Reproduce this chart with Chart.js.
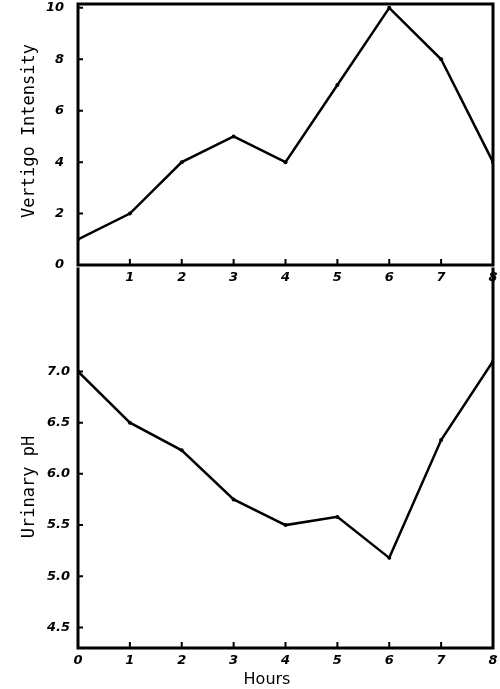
<!DOCTYPE html>
<html>
<head>
<meta charset="utf-8">
<script src="https://cdn.jsdelivr.net/npm/chart.js@4"></script>
<style>
    body { margin: 0; background: #fff; }
    #wrap { position: relative; width: 500px; height: 689px; }
    canvas { position: absolute; left: 0; }
    #vertigoChart { top: 0; }
    #phChart { top: 265px; }
</style>
</head>
<body>
<div id="wrap">
    <canvas id="vertigoChart" width="500" height="290"></canvas>
    <canvas id="phChart" width="500" height="424"></canvas>
</div>
<script>
// Data
const hours = [0, 1, 2, 3, 4, 5, 6, 7, 8];
const vertigo = [1, 2, 4, 5, 4, 7, 10, 8, 4];
const urinaryPh = [7.0, 6.5, 6.23, 5.75, 5.5, 5.58, 5.18, 6.33, 7.1];
const vertigoTicks = [0, 2, 4, 6, 8, 10];
const phTicks = [4.5, 5.0, 5.5, 6.0, 6.5, 7.0];
const hourTicks = [0, 1, 2, 3, 4, 5, 6, 7, 8];

const tickFont = { family: 'DejaVu Sans', size: 13, weight: 'bold', style: 'italic' };
const noGrid = { display: false, drawTicks: false };

// the scales should not reserve extra room for half labels
function noPad(s) {
    s.paddingTop = 0;
    s.paddingBottom = 0;
    s.paddingLeft = 0;
    s.paddingRight = 0;
}

// frame lines, inward tick marks and the axis titles
const framePlugin = {
    id: 'frame',
    afterDraw(chart, args, opts) {
        const ctx = chart.ctx;
        const a = chart.chartArea;
        const xs = chart.scales.x;
        const ys = chart.scales.y;
        ctx.save();
        ctx.strokeStyle = '#000';
        ctx.lineWidth = 3;
        ctx.lineCap = 'square';
        ctx.beginPath();
        if (opts.top) {
            ctx.moveTo(a.left, a.top);
            ctx.lineTo(a.right, a.top);
        }
        ctx.moveTo(a.left, a.top);
        ctx.lineTo(a.left, a.bottom);
        ctx.lineTo(a.right, a.bottom);
        ctx.lineTo(a.right, a.top);
        ctx.stroke();

        ctx.lineWidth = 2;
        ctx.beginPath();
        xs.ticks.forEach(t => {
            const px = xs.getPixelForValue(t.value);
            ctx.moveTo(px, a.bottom);
            ctx.lineTo(px, a.bottom - 5);
        });
        ys.ticks.forEach(t => {
            const py = ys.getPixelForValue(t.value);
            ctx.moveTo(a.left, py);
            ctx.lineTo(a.left + 4, py);
        });
        ctx.stroke();

        ctx.fillStyle = '#000';
        ctx.textAlign = 'center';
        ctx.textBaseline = 'middle';
        ctx.font = '17px "DejaVu Sans Mono"';
        ctx.translate(opts.yTitleX, opts.yTitleY);
        ctx.rotate(-Math.PI / 2);
        ctx.fillText(opts.yTitle, 0, 0);
        ctx.restore();

        if (opts.xTitle) {
            ctx.save();
            ctx.fillStyle = '#000';
            ctx.textAlign = 'center';
            ctx.textBaseline = 'middle';
            ctx.font = '16px "DejaVu Sans"';
            ctx.fillText(opts.xTitle, opts.xTitleX, opts.xTitleY);
            ctx.restore();
        }
    }
};

function lineDataset(values) {
    return {
        data: hours.map((h, i) => ({ x: h, y: values[i] })),
        borderColor: '#000',
        borderWidth: 2.5,
        pointRadius: 2,
        pointBackgroundColor: '#000',
        pointBorderWidth: 0,
        tension: 0
    };
}

new Chart(document.getElementById('vertigoChart'), {
    type: 'line',
    data: { datasets: [lineDataset(vertigo)] },
    options: {
        responsive: false,
        animation: false,
        devicePixelRatio: 1,
        layout: { padding: { top: 3, right: 7, left: 0, bottom: 0 } },
        plugins: {
            legend: { display: false },
            tooltip: { enabled: false },
            frame: { top: true, yTitle: 'Vertigo Intensity', yTitleX: 30, yTitleY: 131 }
        },
        scales: {
            x: {
                type: 'linear',
                min: 0,
                max: 8,
                grid: noGrid,
                border: { display: false },
                afterBuildTicks: s => { s.ticks = hourTicks.map(v => ({ value: v })); },
                afterFit: s => { s.height = 25; noPad(s); },
                ticks: {
                    color: '#000',
                    font: tickFont,
                    padding: 5,
                    maxRotation: 0,
                    callback: v => (v === 0 ? '' : v)
                }
            },
            y: {
                min: 0,
                max: 10.15,
                grid: noGrid,
                border: { display: false },
                afterBuildTicks: s => { s.ticks = vertigoTicks.map(v => ({ value: v })); },
                afterFit: s => { s.width = 78; noPad(s); },
                ticks: { color: '#000', font: tickFont, padding: 14 }
            }
        }
    },
    plugins: [framePlugin]
});

new Chart(document.getElementById('phChart'), {
    type: 'line',
    data: { datasets: [lineDataset(urinaryPh)] },
    options: {
        responsive: false,
        animation: false,
        devicePixelRatio: 1,
        layout: { padding: { top: 0, right: 7, left: 0, bottom: 0 } },
        plugins: {
            legend: { display: false },
            tooltip: { enabled: false },
            frame: {
                top: false,
                yTitle: 'Urinary pH', yTitleX: 30, yTitleY: 222,
                xTitle: 'Hours', xTitleX: 267, xTitleY: 415
            }
        },
        scales: {
            x: {
                type: 'linear',
                min: 0,
                max: 8,
                grid: noGrid,
                border: { display: false },
                afterBuildTicks: s => { s.ticks = hourTicks.map(v => ({ value: v })); },
                afterFit: s => { s.height = 41; noPad(s); },
                ticks: { color: '#000', font: tickFont, padding: 5, maxRotation: 0 }
            },
            y: {
                min: 4.3,
                max: 8.0,
                grid: noGrid,
                border: { display: false },
                afterBuildTicks: s => { s.ticks = phTicks.map(v => ({ value: v })); },
                afterFit: s => { s.width = 78; noPad(s); },
                ticks: { color: '#000', font: tickFont, padding: 8, callback: v => v.toFixed(1) }
            }
        }
    },
    plugins: [framePlugin]
});
</script>
</body>
</html>
